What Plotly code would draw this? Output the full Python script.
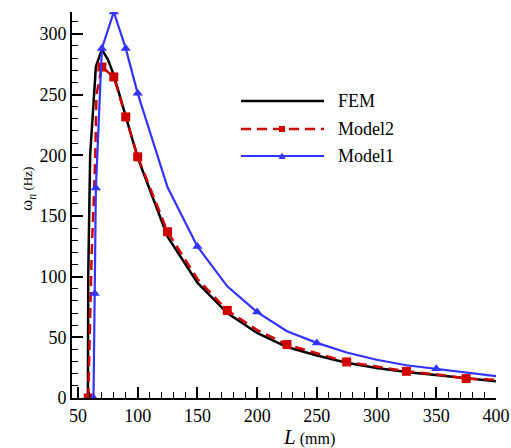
import plotly.graph_objects as go

# ---------------- data ----------------
fem_L = [58.3, 58.6, 60.2, 65, 70, 75, 80, 90, 100, 125, 150, 175, 200, 225, 250, 275, 300, 325, 350, 375, 400]
fem_w = [0, 100, 200, 273, 287, 279, 266, 232, 198, 133, 95, 70, 53.6, 42, 35, 29, 24.8, 21.5, 18.8, 16, 13.8]

m2_L = [58.6, 60.5, 61.5, 63.5, 64.5, 65.5, 70, 80, 90, 100, 125, 150, 175, 200, 225, 250, 275, 300, 325, 350, 375, 400]
m2_w = [0, 90, 120, 170, 200, 250, 272.7, 264.5, 231.6, 198.7, 137, 98, 72.2, 56, 44, 36.6, 29.7, 26, 22, 19.5, 16, 15]
m2_marker_L = [58.6, 70, 80, 90, 100, 125, 175, 225, 275, 325, 375]

m1_L = [63, 64, 65, 70, 80, 90, 100, 125, 150, 175, 200, 225, 250, 275, 300, 325, 350, 375, 400]
m1_w = [0, 86, 173, 288, 318, 288, 251, 173.6, 124.8, 92, 70.8, 55, 45.4, 37.5, 31.5, 27, 24, 20.5, 18]
m1_marker_L = [63, 64, 65, 70, 80, 90, 100, 150, 200, 250, 350]

series_names = ["FEM", "Model2", "Model1"]
x_ticks = [50, 100, 150, 200, 250, 300, 350, 400]
y_ticks = [0, 50, 100, 150, 200, 250, 300]

# ---------------- style ----------------
BLACK = "#000000"
RED = "#d00000"
BLUE = "#3333ff"
FONT = "Liberation Serif"

W, H = 511, 448
PL, PR, PT, PB = 72, 496, 12, 398  # plot area in window pixels
PW, PH = PR - PL, PB - PT


def px(xp, yp):
    return (xp - PL) / PW, (PB - yp) / PH


def sub(xs, ys, keep):
    out_x, out_y = [], []
    for k in keep:
        i = xs.index(k)
        out_x.append(xs[i])
        out_y.append(ys[i])
    return out_x, out_y


fig = go.Figure()

fig.add_trace(go.Scatter(x=fem_L, y=fem_w, mode="lines", name="FEM",
                         line=dict(color=BLACK, width=2.5), showlegend=False))

fig.add_trace(go.Scatter(x=m2_L, y=m2_w, mode="lines", name="Model2",
                         line=dict(color=RED, width=2.5, dash="10px,6px"), showlegend=False))
mx, my = sub(m2_L, m2_w, m2_marker_L)
fig.add_trace(go.Scatter(x=mx, y=my, mode="markers", name="Model2",
                         marker=dict(symbol="square", size=9, color=RED), showlegend=False))

fig.add_trace(go.Scatter(x=m1_L, y=m1_w, mode="lines", name="Model1",
                         line=dict(color=BLUE, width=2.2), showlegend=False))
bx, by = sub(m1_L, m1_w, m1_marker_L)
fig.add_trace(go.Scatter(x=bx, y=by, mode="markers", name="Model1",
                         marker=dict(symbol="triangle-up", size=9, color=BLUE), showlegend=False))

# ---------------- manual legend ----------------
shapes = []
annotations = []
rows = [101, 129, 156]
colors = [BLACK, RED, BLUE]
dashes = ["solid", "10px,6px", "solid"]
widths = [2.5, 2.5, 2.2]
for name, yy, c, d, w in zip(series_names, rows, colors, dashes, widths):
    x0, y0 = px(241, yy)
    x1, _ = px(324, yy)
    shapes.append(dict(type="line", xref="paper", yref="paper", x0=x0, y0=y0, x1=x1, y1=y0,
                       line=dict(color=c, width=w, dash=d)))
    tx, ty = px(336, yy)
    annotations.append(dict(text=name, xref="paper", yref="paper", x=tx, y=ty,
                            xanchor="left", yanchor="middle", showarrow=False,
                            font=dict(family=FONT, size=18, color=BLACK)))
# legend square
a0, b0 = px(279, 132)
a1, b1 = px(285, 126)
shapes.append(dict(type="rect", xref="paper", yref="paper", x0=a0, y0=b0, x1=a1, y1=b1,
                   line=dict(width=0), fillcolor=RED))
# legend triangle
p1 = px(278.5, 159)
p2 = px(285.5, 159)
p3 = px(282, 152.5)
shapes.append(dict(type="path", xref="paper", yref="paper",
                   path=f"M {p1[0]} {p1[1]} L {p2[0]} {p2[1]} L {p3[0]} {p3[1]} Z",
                   line=dict(width=0), fillcolor=BLUE))

# axis titles
tx, ty = px(309, 437)
annotations.append(dict(text="<i>L</i><span style='font-size:16px'> (mm)</span>",
                        xref="paper", yref="paper", x=tx, y=ty, xanchor="center", yanchor="middle",
                        showarrow=False, font=dict(family=FONT, size=21, color=BLACK)))
tx, ty = px(28, 189)
annotations.append(dict(text="ω<sub><i>n</i></sub><span style='font-size:13px'> (Hz)</span>",
                        xref="paper", yref="paper", x=tx, y=ty, xanchor="center", yanchor="middle",
                        textangle=-90, showarrow=False, font=dict(family=FONT, size=17, color=BLACK)))

axis_common = dict(
    showline=True, linewidth=2, linecolor=BLACK, mirror=False,
    showgrid=False, zeroline=False,
    ticks="inside", ticklen=11, tickwidth=2, tickcolor=BLACK,
    tickfont=dict(family=FONT, size=18, color=BLACK),
)

fig.update_layout(
    width=W, height=H,
    margin=dict(l=PL, r=W - PR, t=PT, b=H - PB, autoexpand=False),
    paper_bgcolor="white", plot_bgcolor="white",
    showlegend=False,
    xaxis=dict(range=[45, 400], tickvals=x_ticks,
               minor=dict(ticks="inside", ticklen=6, tickwidth=1.3, tickcolor=BLACK, dtick=10, tick0=50),
               **axis_common),
    yaxis=dict(range=[0, 318], tickvals=y_ticks,
               minor=dict(ticks="inside", ticklen=6, tickwidth=1.3, tickcolor=BLACK, dtick=10, tick0=0),
               **axis_common),
    shapes=shapes,
    annotations=annotations,
)

fig.write_html("out.html",
               config={"displayModeBar": False},
               post_script="document.body.style.margin='0';document.body.style.overflow='hidden';")
